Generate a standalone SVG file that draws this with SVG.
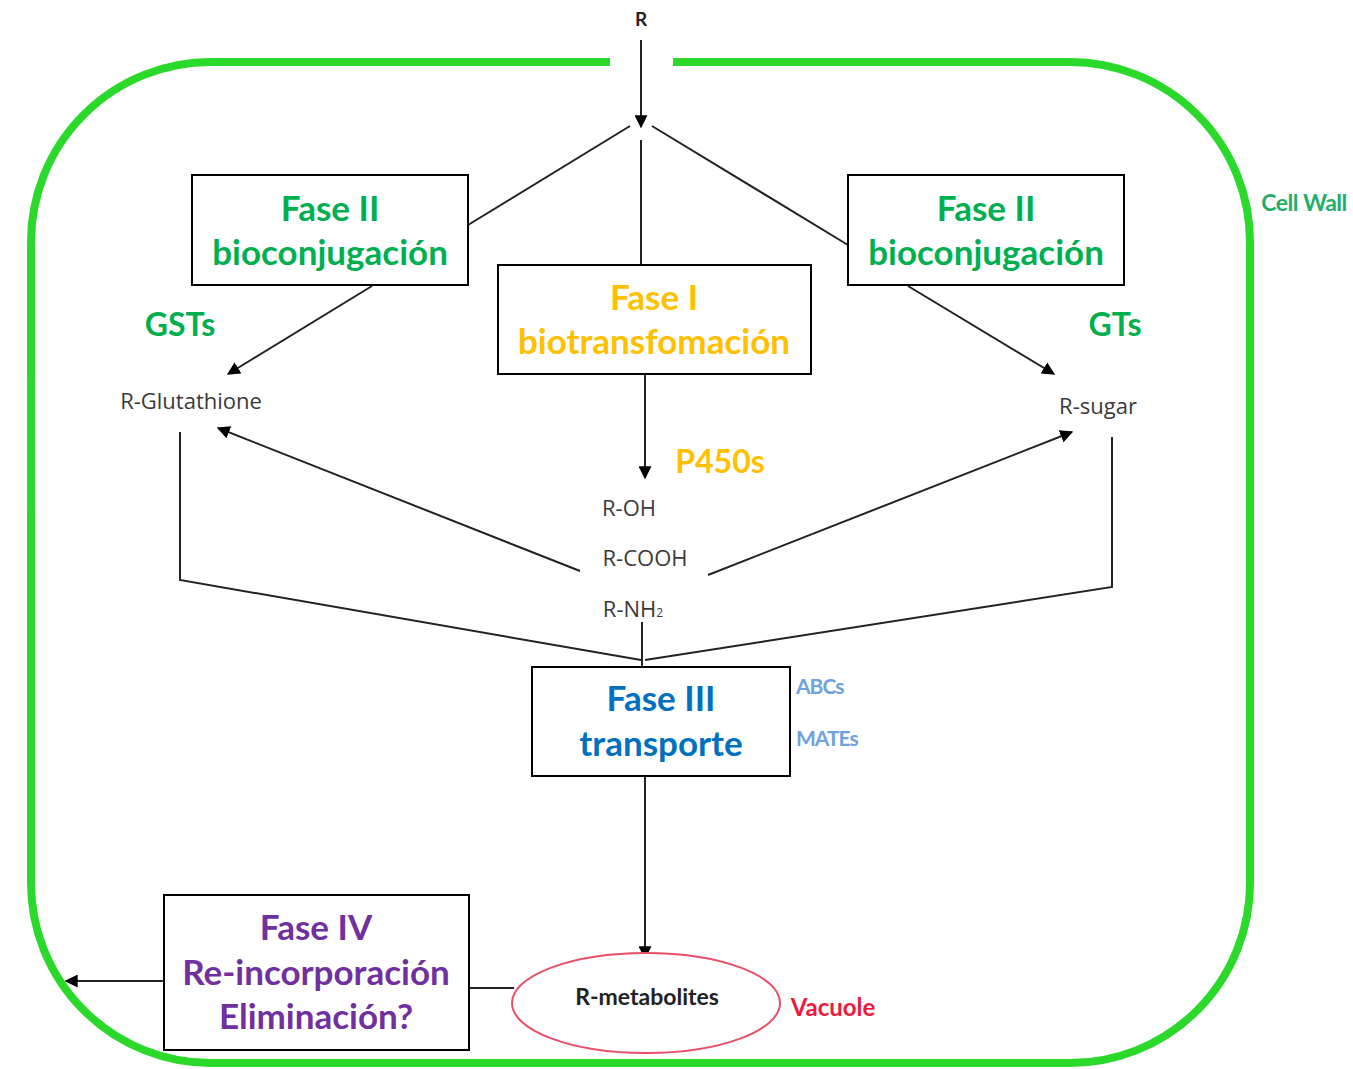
<svg xmlns="http://www.w3.org/2000/svg" width="1353" height="1069" viewBox="0 0 1353 1069">
<style>
.box{fill:#fff;stroke:#000;stroke-width:2}
.t{font-family:Lato,"Open Sans",sans-serif;font-weight:bold;font-size:32px;text-anchor:middle}
.bt{font-size:35px}
.s{font-family:"Open Sans","Noto Sans",sans-serif;font-size:22px;fill:#3a3a3a;text-anchor:middle}
.g{fill:#00B050}.o{fill:#FFC000}.b{fill:#0070C0}.p{fill:#7030A0}
.ln{stroke:#222;stroke-width:2;fill:none}
</style>
<defs>
<marker id="ah2" viewBox="0 0 10 10" refX="9" refY="5" markerWidth="13" markerHeight="13" orient="auto" markerUnits="userSpaceOnUse">
<path d="M0,0 L10,5 L0,10 z" fill="#000"/>
</marker>
</defs>
<rect width="1353" height="1069" fill="#fff"/>
<g id="cellwall">
<path d="M673,62 H1070 A180,180 0 0 1 1250,242 V883 A180,180 0 0 1 1070,1063 H211 A180,180 0 0 1 31,883 V242 A180,180 0 0 1 211,62 H610" fill="none" stroke="#2BD92B" stroke-width="8"/>
<text x="1304" y="211" font-family="Lato,sans-serif" font-weight="bold" font-size="23" fill="#1FAF6A" text-anchor="middle" letter-spacing="-0.5">Cell Wall</text>
</g>
<g id="connectors">
<line class="ln" x1="641" y1="40" x2="641" y2="127" marker-end="url(#ah2)"/>
<line class="ln" x1="630" y1="126" x2="468" y2="225"/>
<line class="ln" x1="641" y1="140" x2="641" y2="265"/>
<line class="ln" x1="652" y1="126" x2="848" y2="245"/>
<line class="ln" x1="372" y1="286" x2="228" y2="374" marker-end="url(#ah2)"/>
<line class="ln" x1="908" y1="286" x2="1054" y2="374" marker-end="url(#ah2)"/>
<line class="ln" x1="645" y1="374" x2="645" y2="478" marker-end="url(#ah2)"/>
<line class="ln" x1="580" y1="571" x2="218" y2="428" marker-end="url(#ah2)"/>
<line class="ln" x1="708" y1="575" x2="1072" y2="432" marker-end="url(#ah2)"/>
<polyline class="ln" points="180,432 180,580 641,660"/>
<polyline class="ln" points="1112,437 1112,587 645,660"/>
<line class="ln" x1="642" y1="622" x2="642" y2="667"/>
<line class="ln" x1="645" y1="777" x2="645" y2="958" marker-end="url(#ah2)"/>
<line class="ln" x1="469" y1="988" x2="514" y2="988"/>
<line class="ln" x1="164" y1="981" x2="66" y2="981" marker-end="url(#ah2)"/>
</g>
<g id="R"><text x="641" y="26" font-family="Lato,sans-serif" font-weight="bold" font-size="19" fill="#222" text-anchor="middle">R</text></g>
<g id="fase2-left">
<rect class="box" x="192" y="175" width="276" height="110"/>
<text class="t bt g" x="330" y="221">Fase II</text>
<text class="t bt g" x="330" y="265">bioconjugación</text>
</g>
<g id="fase2-right">
<rect class="box" x="848" y="175" width="276" height="110"/>
<text class="t bt g" x="986" y="221">Fase II</text>
<text class="t bt g" x="986" y="265">bioconjugación</text>
</g>
<g id="fase1">
<rect class="box" x="498" y="265" width="313" height="109"/>
<text class="t bt o" x="654" y="310">Fase I</text>
<text class="t bt o" x="654" y="354">biotransfomación</text>
</g>
<g id="gsts"><text class="t g" x="180" y="336">GSTs</text></g>
<g id="gts"><text class="t g" x="1115" y="336">GTs</text></g>
<g id="p450s"><text class="t o" x="720" y="473">P450s</text></g>
<g id="rglut"><text class="s" x="191" y="409">R-Glutathione</text></g>
<g id="rsugar"><text class="s" x="1098" y="414">R-sugar</text></g>
<g id="products">
<text class="s" x="629" y="516">R-OH</text>
<text class="s" x="645" y="566">R-COOH</text>
<text class="s" x="633" y="617">R-NH<tspan font-size="12">2</tspan></text>
</g>
<g id="fase3">
<rect class="box" x="532" y="667" width="258" height="109"/>
<text class="t bt b" x="661" y="711">Fase III</text>
<text class="t bt b" x="661" y="756">transporte</text>
</g>
<g id="transporters">
<text x="796" y="694" font-family="Lato,sans-serif" font-weight="bold" font-size="21" fill="#6FA3DC" letter-spacing="-1">ABCs</text>
<text x="796" y="746" font-family="Lato,sans-serif" font-weight="bold" font-size="21" fill="#6FA3DC" letter-spacing="-1">MATEs</text>
</g>
<g id="vacuole">
<ellipse cx="646" cy="1003" rx="134" ry="50" fill="#fff" stroke="#E8506A" stroke-width="2"/>
<text x="647" y="1005" font-family="Lato,sans-serif" font-weight="bold" font-size="23" fill="#222" text-anchor="middle">R-metabolites</text>
<text x="833" y="1016" font-family="Lato,sans-serif" font-weight="bold" font-size="24" fill="#F0183C" text-anchor="middle">Vacuole</text>
</g>
<g id="fase4">
<rect class="box" x="164" y="895" width="305" height="155"/>
<text class="t bt p" x="316" y="940">Fase IV</text>
<text class="t bt p" x="316" y="985">Re-incorporación</text>
<text class="t bt p" x="316" y="1029">Eliminación?</text>
</g>
</svg>
